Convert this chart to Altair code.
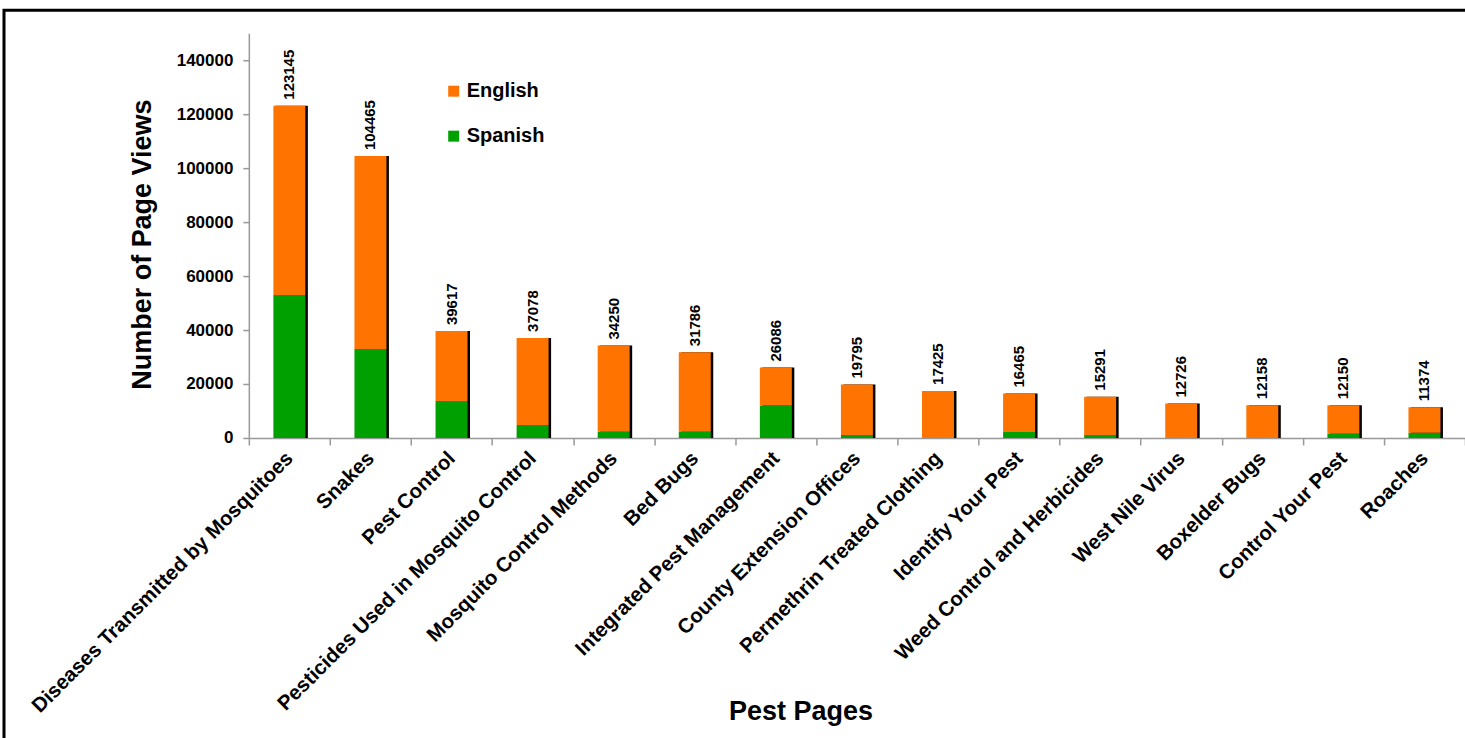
import altair as alt
import pandas as pd

categories = [
    "Diseases Transmitted by Mosquitoes", "Snakes", "Pest Control",
    "Pesticides Used in Mosquito Control", "Mosquito Control Methods", "Bed Bugs",
    "Integrated Pest Management", "County Extension Offices",
    "Permethrin Treated Clothing", "Identify Your Pest", "Weed Control and Herbicides",
    "West Nile Virus", "Boxelder Bugs", "Control Your Pest", "Roaches",
]
totals = [123145, 104465, 39617, 37078, 34250, 31786, 26086, 19795,
          17425, 16465, 15291, 12726, 12158, 12150, 11374]
spanish = [53000, 33000, 13700, 4800, 2300, 2300, 12000, 1100,
           0, 2200, 1100, 0, 0, 1600, 1900]
languages = ["English", "Spanish"]
colors = ["#FF7300", "#00A000"]
y_ticks = [0, 20000, 40000, 60000, 80000, 100000, 120000, 140000]

FONT = "Liberation Sans"

rows = []
for c, t, s in zip(categories, totals, spanish):
    rows.append({"page": c, "lang": "Spanish", "views": s, "ord": 0})
    rows.append({"page": c, "lang": "English", "views": t - s, "ord": 1})
df = pd.DataFrame(rows)
tot = pd.DataFrame({"page": categories, "total": totals})

W, H = 1217, 405

xenc = alt.X(
    "page:N", sort=categories, title="Pest Pages",
    scale=alt.Scale(paddingInner=0, paddingOuter=0),
    axis=alt.Axis(
        labelAngle=-45, labelAlign="right", labelBaseline="middle",
        labelFont=FONT, labelFontSize=20.5, labelFontWeight="bold", labelColor="black",
        labelPadding=10, labelLimit=600,
        tickBand="extent", tickColor="#999999", tickSize=7, domainColor="#999999",
        domainWidth=1.5, tickWidth=1.5,
        titleFont=FONT, titleFontSize=27, titleFontWeight="bold", titleColor="black",
        titleX=552, titleY=274, titleAlign="center", titleBaseline="middle",
    ),
)
yscale = alt.Scale(domain=[0, 150000], nice=False)
yaxis = alt.Axis(
    values=y_ticks, format="d", grid=False,
    labelFont=FONT, labelFontSize=17, labelFontWeight="bold", labelColor="black",
    labelPadding=10, tickColor="#999999", tickSize=6, domainColor="#999999",
    domainWidth=1.5, tickWidth=1.5,
    title="Number of Page Views", titleFont=FONT, titleFontSize=27,
    titleFontWeight="bold", titleColor="black",
    titleX=-106, titleY=211, titleAngle=-90, titleAlign="center", titleBaseline="middle",
)

shadow = alt.Chart(tot).mark_bar(size=32, xOffset=2.5, color="black").encode(
    x=xenc, y=alt.Y("total:Q", scale=yscale, axis=yaxis),
)

bars = alt.Chart(df).mark_bar(size=32).encode(
    x=xenc,
    y=alt.Y("views:Q", stack="zero", scale=yscale, axis=yaxis),
    color=alt.Color(
        "lang:N", scale=alt.Scale(domain=languages, range=colors),
        legend=alt.Legend(
            title=None, orient="none", legendX=195, legendY=48,
            symbolType="square", symbolSize=121, symbolStrokeWidth=0,
            labelFont=FONT, labelFontSize=20, labelFontWeight="bold", labelColor="black",
            rowPadding=25, labelOffset=3,
        ),
    ),
    order=alt.Order("ord:Q", sort="ascending"),
)

labels = alt.Chart(tot).mark_text(
    angle=270, align="left", baseline="middle", dx=6,
    font=FONT, fontSize=15, fontWeight="bold", color="black",
).encode(
    x=xenc, y=alt.Y("total:Q", scale=yscale, axis=yaxis), text="total:Q",
)

border = alt.Chart(pd.DataFrame({"a": [0]})).mark_rect(
    filled=False, stroke="black", strokeWidth=3,
).encode(
    x=alt.value(-245), x2=alt.value(1400), y=alt.value(-23), y2=alt.value(900),
)

chart = alt.layer(shadow, bars, labels, border).properties(
    width=W, height=H,
    background="white",
    autosize=alt.AutoSizeParams(type="none"),
    padding={"left": 249, "top": 33, "right": 0, "bottom": 300},
).configure_view(strokeWidth=0)

chart.save("out.html", embed_options={"renderer": "svg", "actions": False})
